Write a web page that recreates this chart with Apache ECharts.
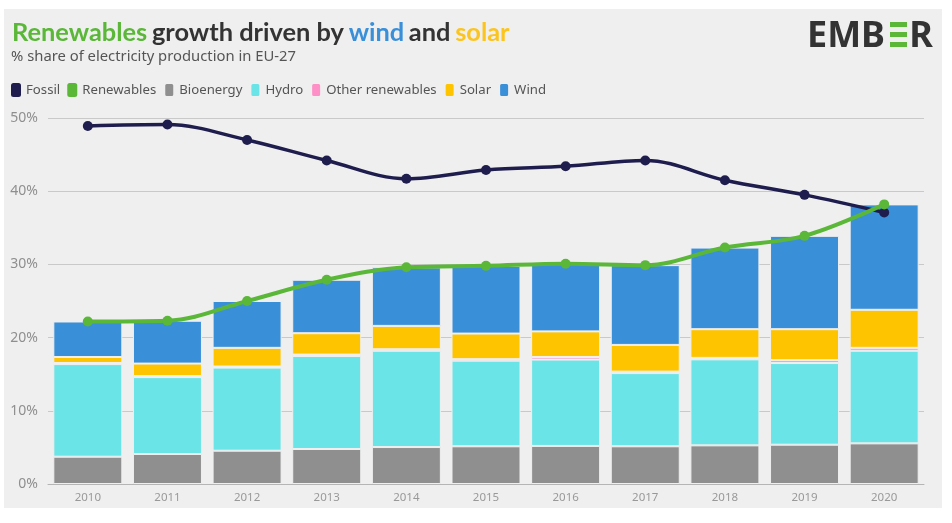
<!DOCTYPE html>
<html><head><meta charset="utf-8">
<style>html,body{margin:0;padding:0;background:#fff}#c{width:952px;height:523px}</style>
<script src="https://cdn.jsdelivr.net/npm/echarts@6/dist/echarts.min.js"></script>
</head><body><div id="c"></div>
<script>
const years=['2010','2011','2012','2013','2014','2015','2016','2017','2018','2019','2020'];
const fossil=[48.9,49.1,47,44.2,41.7,42.9,43.4,44.2,41.5,39.5,37.1];
const renewables=[22.2,22.3,25,27.9,29.6,29.8,30.1,29.9,32.3,33.9,38.2];
const bioenergy=[3.73,4.1,4.55,4.78,5.05,5.15,5.2,5.15,5.28,5.37,5.55];
const hydro=[12.65,10.5,11.35,12.7,13.15,11.7,11.8,10.0,11.75,11.15,12.65];
const otherRenewables=[0.15,0.15,0.15,0.2,0.2,0.2,0.35,0.2,0.2,0.4,0.4];
const solar=[0.82,1.7,2.55,2.92,3.2,3.5,3.5,3.65,3.92,4.23,5.2];
const wind=[4.85,5.85,6.4,7.3,8.0,9.25,9.25,10.9,11.15,12.75,14.4];
const BG='#efefef', FONT='"Noto Sans",sans-serif', TFONT='Lato,sans-serif';
const bar=(name,data,color)=>({name,type:'bar',stack:'t',data,barWidth:69,z:2,
  itemStyle:{color,borderColor:BG,borderWidth:1}});
const line=(name,data,color,w)=>({name,type:'line',data,smooth:0.35,z:5,symbol:'circle',symbolSize:10,
  lineStyle:{color,width:w},itemStyle:{color}});
const T=(color)=>({fontSize:25.4,fontWeight:'bold',color,fontFamily:TFONT});
const chart=echarts.init(document.getElementById('c'),null,{renderer:'canvas'});
chart.setOption({
  animation:false,
  textStyle:{fontFamily:FONT},
  title:[{
    left:12,top:20,padding:0,
    text:'{g|Renewables} {d|growth driven by} {b|wind} {d|and} {y|solar}',
    textStyle:{rich:{g:T('#5ab738'),d:T('#333333'),b:T('#3a8fd9'),y:T('#fcc41e')}}
  },{
    left:11,top:49,padding:0,text:'% share of electricity production in EU-27',
    textStyle:{fontSize:14.8,fontWeight:'normal',color:'#555555',fontFamily:FONT}
  }],
  legend:{
    left:11,top:82,padding:0,icon:'roundRect',itemWidth:10,itemHeight:14,itemGap:7,
    textStyle:{fontSize:13.2,color:'#555555',fontFamily:FONT},
    data:['Fossil','Renewables','Bioenergy','Hydro','Other renewables','Solar','Wind']
  },
  grid:{left:48,right:28,top:118,bottom:39},
  xAxis:{type:'category',data:years,
    axisLine:{lineStyle:{color:'#b5b5b5',width:1}},
    axisTick:{alignWithLabel:true,length:4,lineStyle:{color:'#c4c4c4'}},
    axisLabel:{fontSize:11.5,color:'#999999',margin:8}},
  yAxis:{type:'value',min:0,max:50,interval:10,
    axisLine:{show:false},axisTick:{show:false},
    splitLine:{lineStyle:{color:'#c9c9c9',width:1}},
    axisLabel:{fontSize:14,color:'#8f8f8f',margin:10,formatter:'{value}%'}},
  series:[
    bar('Bioenergy',bioenergy,'#8f8f8f'),
    bar('Hydro',hydro,'#6ae4e6'),
    bar('Other renewables',otherRenewables,'#ff8fc7'),
    bar('Solar',solar,'#ffc400'),
    bar('Wind',wind,'#3a8fd9'),
    line('Fossil',fossil,'#1e1d4d',3.5),
    line('Renewables',renewables,'#5ab738',4)
  ],
  graphic:[
    {type:'rect',silent:true,z:-10,shape:{x:4,y:9,width:938,height:499},style:{fill:BG}},
    {type:'text',silent:true,z:10,x:807,y:19,style:{
      text:'{a|EMB}{e|E}{a|R}',
      rich:{a:{fontSize:36,fontWeight:'bold',fill:'#333333',fontFamily:FONT},
            e:{fontSize:36,fontWeight:'bold',fill:'rgba(0,0,0,0)',fontFamily:FONT,padding:[0,4,0,0]}}}},
    {type:'rect',silent:true,z:10,shape:{x:890,y:22,width:17,height:5},style:{fill:'#5ab738'}},
    {type:'rect',silent:true,z:10,shape:{x:890,y:32,width:17,height:5},style:{fill:'#5ab738'}},
    {type:'rect',silent:true,z:10,shape:{x:890,y:42,width:17,height:5},style:{fill:'#5ab738'}}
  ]
});
</script></body></html>
